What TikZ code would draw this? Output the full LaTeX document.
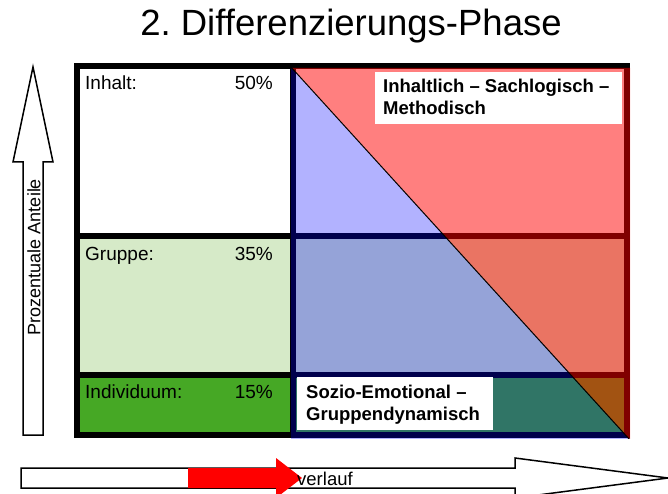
\documentclass[tikz,border=0pt]{standalone}
\usepackage{fontspec}
\setmainfont{Liberation Sans}
\definecolor{grpgreen}{RGB}{214,234,200}
\definecolor{indgreen}{RGB}{70,168,37}
\frenchspacing
\begin{document}
\begin{tikzpicture}[x=1pt, y=-1pt,
  lbl/.style = {inner sep=0, font=\fontsize{19}{22}\selectfont},
  tag/.style = {inner sep=0, font=\bfseries\fontsize{18.5}{22}\selectfont},
  blockarrow/.style = {draw, line width=1.5pt, fill=white, line join=miter}]
\useasboundingbox (0,0) rectangle (668,494);

% title
\node[inner sep=0, anchor=base, font=\fontsize{36.5}{40}\selectfont] (title) at (351,36) {2. Differenzierungs-Phase};

% frame and rows
\fill[black] (74,63) rectangle (630,438);
\fill[white] (80,69) rectangle (290,233);
\fill[grpgreen] (80,239) rectangle (290,372);
\fill[indgreen] (80,378) rectangle (290,432);
\fill[white] (296,69) rectangle (624,233);
\fill[grpgreen] (296,239) rectangle (624,372);
\fill[indgreen] (296,378) rectangle (624,432);

% overlay triangles
\begin{scope}
  \clip (74,63) rectangle (630,438);
  \fill[blue, opacity=0.3] (291,68) -- (630,440) -- (291,440) -- cycle;
  \fill[red, opacity=0.5] (291.8,68) -- (630,68) -- (630,440) -- cycle;
  \draw[line width=1pt] (290,66) -- (630,440);
\end{scope}

% row labels
\node[lbl, anchor=base west] (inh) at (85,90) {Inhalt:};
\node[lbl, anchor=base east] (inhp) at (273,90) {50\%};
\node[lbl, anchor=base west] (grp) at (85,260) {Gruppe:};
\node[lbl, anchor=base east] (grpp) at (273,260) {35\%};
\node[lbl, anchor=base west] (ind) at (85,398) {Individuum:};
\node[lbl, anchor=base east] (indp) at (273,398) {15\%};

% white tags
\fill[white] (375,72) rectangle (622,124);
\node[tag, anchor=base west] (sach1) at (383,93) {Inhaltlich – Sachlogisch –};
\node[tag, anchor=base west] (sach2) at (383,115) {Methodisch};
\fill[white] (297,377) rectangle (493,430);
\node[tag, anchor=base west] (sozio1) at (306,398) {Sozio-Emotional –};
\node[tag, anchor=base west] (sozio2) at (306,420) {Gruppendynamisch};

% vertical axis arrow
\draw[blockarrow] (23,435) -- (23,162) -- (13,162) -- (33,67) -- (53,162) -- (43,162) -- (43,435) -- cycle;
\node[inner sep=0, rotate=90, font=\fontsize{18}{20}\selectfont] (axis) at (34,257) {Prozentuale Anteile};

% horizontal time arrow
\draw[blockarrow] (21,468) -- (515,468) -- (515,458) -- (668,478) -- (515,498) -- (515,488) -- (21,488) -- cycle;
\fill[red] (188,468) -- (276,468) -- (276,458) -- (302,478) -- (276,498) -- (276,488) -- (188,488) -- cycle;
\node[inner sep=0, anchor=base west, font=\fontsize{18.5}{20}\selectfont] (verl) at (297,485) {verlauf};
\end{tikzpicture}
\end{document}
